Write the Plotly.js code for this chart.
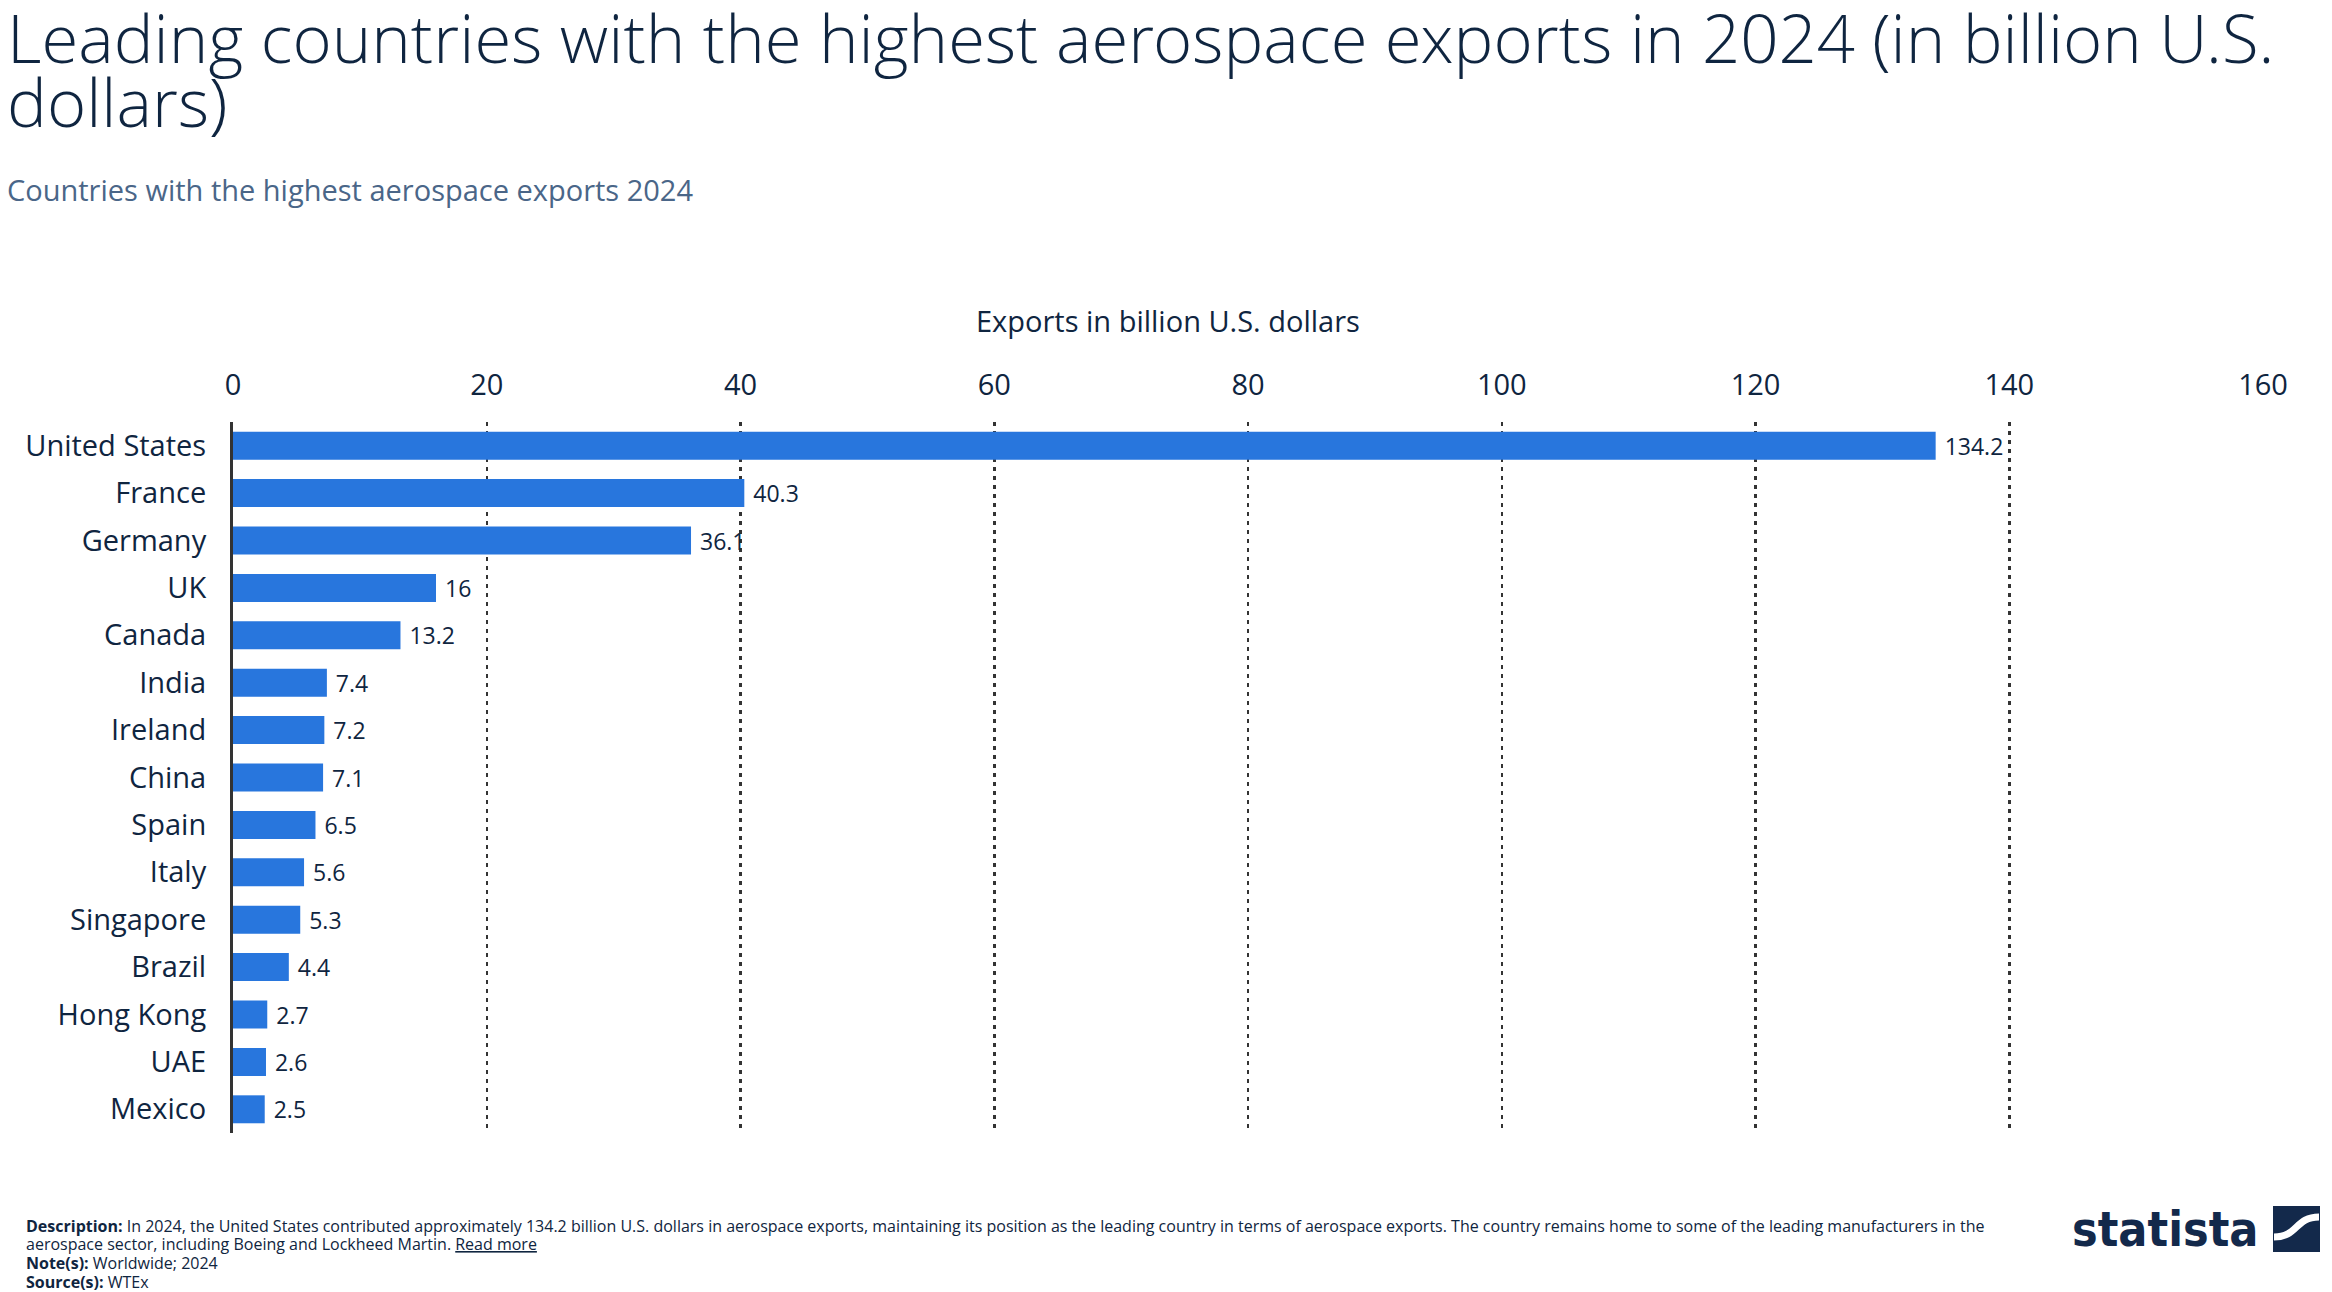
<!DOCTYPE html>
<html>
<head>
<meta charset="utf-8">
<script src="https://cdn.plot.ly/plotly-3.0.1.min.js"></script>
<style>html,body{margin:0;padding:0;background:#fff;}#chart{width:2332px;height:1292px;}</style>
</head>
<body>
<div id="chart"></div>
<script>
const countries = ["United States","France","Germany","UK","Canada","India","Ireland","China","Spain","Italy","Singapore","Brazil","Hong Kong","UAE","Mexico"];
const exportsBn = [134.2,40.3,36.1,16,13.2,7.4,7.2,7.1,6.5,5.6,5.3,4.4,2.7,2.6,2.5];
const xTickValues = [0,20,40,60,80,100,120,140,160];

const titleLine1 = "Leading countries with the highest aerospace exports in 2024 (in billion U.S.";
const titleLine2 = "dollars)";
const subtitle = "Countries with the highest aerospace exports 2024";
const axisTitle = "Exports in billion U.S. dollars";
const footerLines = [
  "<b>Description:</b> In 2024, the United States contributed approximately 134.2 billion U.S. dollars in aerospace exports, maintaining its position as the leading country in terms of aerospace exports. The country remains home to some of the leading manufacturers in the",
  "aerospace sector, including Boeing and Lockheed Martin. <u>Read more</u>",
  "<b>Note(s):</b> Worldwide; 2024",
  "<b>Source(s):</b> WTEx"
];

const W = 2332, H = 1292;
const PL = 233, PR = 2263, PT = 422, PB = 1133;
const px = x => (x - PL) / (PR - PL);
const py = y => (PB - y) / (PB - PT);

const navy = "#0f2540";
const font = "'Open Sans', 'Noto Sans', sans-serif";
const lightFont = "'Open Sans Light', 'Open Sans', 'Noto Sans', sans-serif";

const trace = {
  type: "bar",
  orientation: "h",
  y: countries,
  x: exportsBn,
  marker: {color: "#2876dd"},
  texttemplate: " %{x}",
  textposition: "outside",
  constraintext: "none",
  cliponaxis: false,
  textfont: {family: font, size: 23, color: navy},
  hoverinfo: "skip"
};

function ann(text, xPix, yPix, size, opts) {
  return Object.assign({
    text: text, xref: "paper", yref: "paper",
    x: px(xPix), y: py(yPix), xanchor: "left", yanchor: "middle",
    showarrow: false, align: "left",
    font: {family: font, size: size, color: navy}
  }, opts || {});
}

const annotations = [
  ann(titleLine1, 5, 37, 67, {font: {family: lightFont, size: 67, color: navy, weight: 300}}),
  ann(titleLine2, 5, 101, 67, {font: {family: lightFont, size: 67, color: navy, weight: 300}}),
  ann(subtitle, 5, 189, 29, {font: {family: font, size: 29, color: "#4a6688"}}),
  ann(axisTitle, 1168, 320, 29, {xanchor: "center"}),
  ann(footerLines[0], 24, 1226, 16),
  ann(footerLines[1], 24, 1244, 16),
  ann(footerLines[2], 24, 1263, 16),
  ann(footerLines[3], 24, 1282, 16),
  ann("statista", 2070, 1229, 48, {font: {family: "'Liberation Sans Narrow', 'DejaVu Sans Condensed', sans-serif", size: 48, color: "#13294b", weight: 700}})
];

const shapes = [
  {type: "rect", xref: "paper", yref: "paper", x0: px(2273), x1: px(2320), y0: py(1252), y1: py(1206), fillcolor: "#13294b", line: {width: 0}},
  {type: "path", xref: "paper", yref: "paper",
   path: "M " + px(2274) + "," + py(1237) + " C " + px(2298) + "," + py(1237) + " " + px(2295) + "," + py(1217) + " " + px(2319) + "," + py(1217),
   line: {color: "#ffffff", width: 7}}
];

const layout = {
  width: W, height: H,
  margin: {l: PL, r: W - PR, t: PT, b: H - PB, pad: 0},
  paper_bgcolor: "#ffffff", plot_bgcolor: "#ffffff",
  showlegend: false,
  bargap: 0.41,
  font: {family: font, color: navy},
  xaxis: {
    side: "top", range: [0, 160], tickvals: xTickValues,
    showgrid: true, gridcolor: "#333333", gridwidth: 2.5, griddash: "4px,5px",
    zeroline: false, showline: false, ticks: "",
    ticklabelstandoff: 20,
    tickfont: {family: font, size: 29, color: navy}, fixedrange: true
  },
  yaxis: {
    type: "category", autorange: "reversed",
    showline: true, linecolor: "#333333", linewidth: 3,
    showgrid: false, zeroline: false, ticks: "",
    ticklabelstandoff: 18,
    tickfont: {family: font, size: 29, color: navy}, fixedrange: true
  },
  annotations: annotations,
  shapes: shapes
};

Plotly.newPlot("chart", [trace], layout, {displayModeBar: false, staticPlot: true});
</script>
</body>
</html>
